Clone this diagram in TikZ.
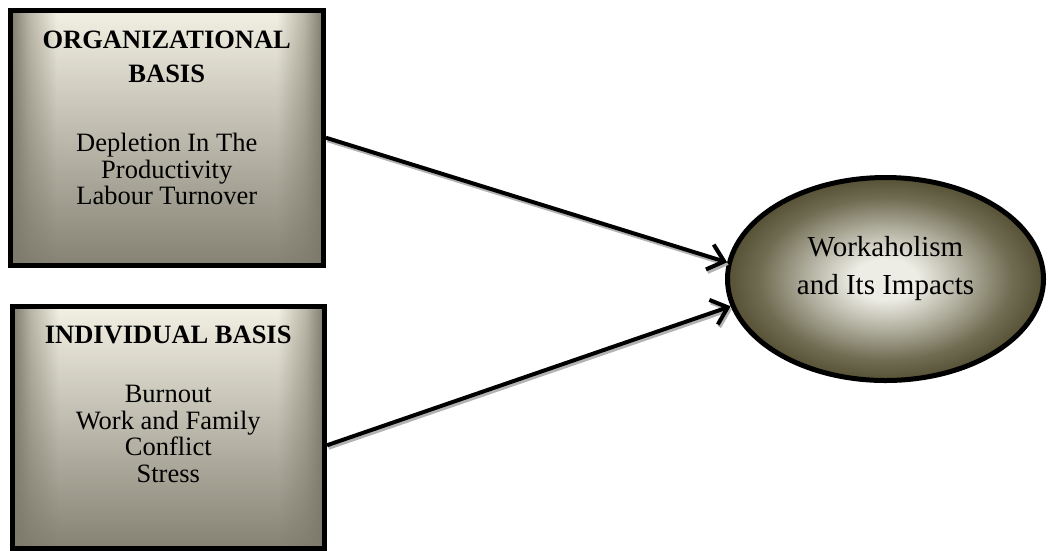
\documentclass[tikz,border=0pt]{standalone}
\usepackage{fontspec}
\setmainfont{Liberation Serif}
\usetikzlibrary{arrows.meta}
\usetikzlibrary{positioning}
\usetikzlibrary{shapes.geometric}
\usetikzlibrary{fadings}

\definecolor{boxedge}{RGB}{124,121,107}
\definecolor{boxmid}{RGB}{186,183,168}
\definecolor{boxlight}{RGB}{243,241,228}
\definecolor{ovaledge}{RGB}{86,81,53}
\definecolor{ovaldark}{RGB}{112,108,82}
\definecolor{ovalmid}{RGB}{172,170,153}
\definecolor{ovallight}{RGB}{238,237,229}

\pgfdeclarehorizontalshading{basisshade}{100bp}{color(0bp)=(boxedge); color(25bp)=(boxedge);
  color(28bp)=(boxmid); color(32.5bp)=(boxlight); color(67.5bp)=(boxlight);
  color(72bp)=(boxmid); color(75bp)=(boxedge); color(100bp)=(boxedge)}
\pgfdeclareradialshading{workshade}{\pgfpoint{0bp}{0bp}}{color(0bp)=(ovallight); color(5bp)=(ovallight);
  color(13bp)=(ovalmid); color(20bp)=(ovaldark); color(25bp)=(ovaledge); color(50bp)=(ovaledge)}
\tikzfading[name=basisfade, top color=transparent!100, middle color=transparent!80, bottom color=transparent!8]

\begin{document}
\begin{tikzpicture}[x=1pt, y=-1pt, inner sep=0pt,
    basisbox/.style={rectangle, draw, line width=5pt,
      preaction={shade, shading=basisshade},
      preaction={fill=boxedge, path fading=basisfade}},
    basistext/.style={align=center, font=\fontsize{26.5}{26.5}\selectfont},
    workoval/.style={ellipse, draw, line width=5pt, shade, shading=workshade,
      minimum width=316pt, minimum height=203pt},
    impact/.style={line width=4pt, -{Straight Barb[length=15pt, width=26pt]}},
    impactshadow/.style={impact, draw=black!30}]
  \useasboundingbox (0,0) rectangle (1048,550);

  % boxes on the left
  \node[basisbox, minimum width=313.5pt, minimum height=254.5pt] (orgbox) at (166.75,137.75) {};
  \node[basisbox, minimum width=312.5pt, minimum height=241.5pt] (indbox) at (168.25,427.25) {};
  \node[basistext, below=23pt of orgbox.north] (orgtext)
    {\textbf{ORGANIZATIONAL}\\[7.5pt]\textbf{BASIS}\\[42.5pt]Depletion In The\\Productivity\\Labour Turnover};
  \node[basistext, below=22pt of indbox.north] (indtext)
    {\textbf{INDIVIDUAL BASIS}\\[32.5pt]Burnout\\Work and Family\\Conflict\\Stress};

  % oval on the right
  \node[workoval] (work) at (885.5,279) {};
  \node[align=center, font=\fontsize{29}{38}\selectfont] (worktext) at ([yshift=10.5pt]work.center)
    {Workaholism\\and Its Impacts};

  % arrows with their shadows
  \begin{scope}[transform canvas={shift={(1.5pt,-2.5pt)}}]
    \draw[impactshadow] (orgbox.east) -- (work.174);
    \draw[impactshadow] ([yshift=-18pt]indbox.east) -- (work.190);
  \end{scope}
  \draw[impact] (orgbox.east) -- (work.174);
  \draw[impact] ([yshift=-18pt]indbox.east) -- (work.190);
\end{tikzpicture}
\end{document}
